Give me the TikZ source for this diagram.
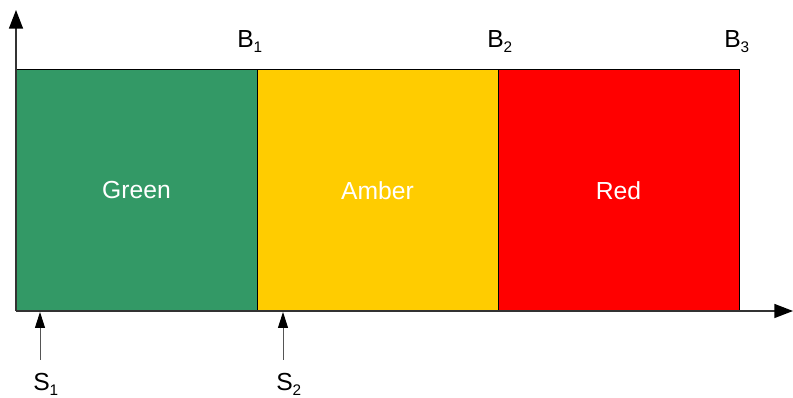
\documentclass[tikz,border=0pt]{standalone}
\usepackage{fontspec}
\setmainfont{Liberation Sans}
\usetikzlibrary{arrows.meta}
\definecolor{zgreen}{HTML}{339966}
\definecolor{zamber}{HTML}{FFCC00}
\definecolor{zred}{HTML}{FF0000}
\definecolor{axisgray}{HTML}{333333}
\definecolor{sgray}{HTML}{555555}
\newcommand{\lsub}[1]{\raisebox{-0.2em}{\fontsize{11.5pt}{12pt}\selectfont #1}}
\begin{document}
\begin{tikzpicture}[x=0.75pt,y=-0.75pt,
  zone/.style={draw=black, line width=0.75pt, minimum width=180.75pt, minimum height=180.75pt, inner sep=0pt, outer sep=0pt, text=white, font=\fontsize{18.5pt}{20pt}\selectfont},
  axisline/.style={draw=axisgray, line width=1.1pt, -{Triangle[length=14pt,width=10.5pt,color=black]}},
  sarrow/.style={draw=sgray, line width=0.75pt, -{Triangle[length=12pt,width=7.5pt,color=black]}},
  lbl/.style={inner sep=0pt, anchor=base west, font=\fontsize{18.5pt}{20pt}\selectfont}]
\useasboundingbox (0,0) rectangle (793,398);
\node[zone, fill=zgreen] (green) at (136.5,190.5) {Green};
\node[zone, fill=zamber] (amber) at (377.5,190.5) {Amber};
\node[zone, fill=zred] (red) at (618.5,190.5) {Red};
\coordinate (o) at (16,311);
\coordinate (ytip) at (16,10);
\coordinate (xtip) at (793,311);
\draw[axisline] (o) -- (ytip);
\draw[axisline] (o) -- (xtip);
\node[lbl] (b1) at (237,48) {B\lsub{1}};
\node[lbl] (b2) at (487,48) {B\lsub{2}};
\node[lbl] (b3) at (724,48) {B\lsub{3}};
\coordinate (s1top) at (40,312);
\coordinate (s1bot) at (40,360);
\coordinate (s2top) at (283,312);
\coordinate (s2bot) at (283,360);
\draw[sarrow] (s1bot) -- (s1top);
\draw[sarrow] (s2bot) -- (s2top);
\node[lbl] (s1) at (33,391) {S\lsub{1}};
\node[lbl] (s2) at (276,391) {S\lsub{2}};
\end{tikzpicture}
\end{document}
